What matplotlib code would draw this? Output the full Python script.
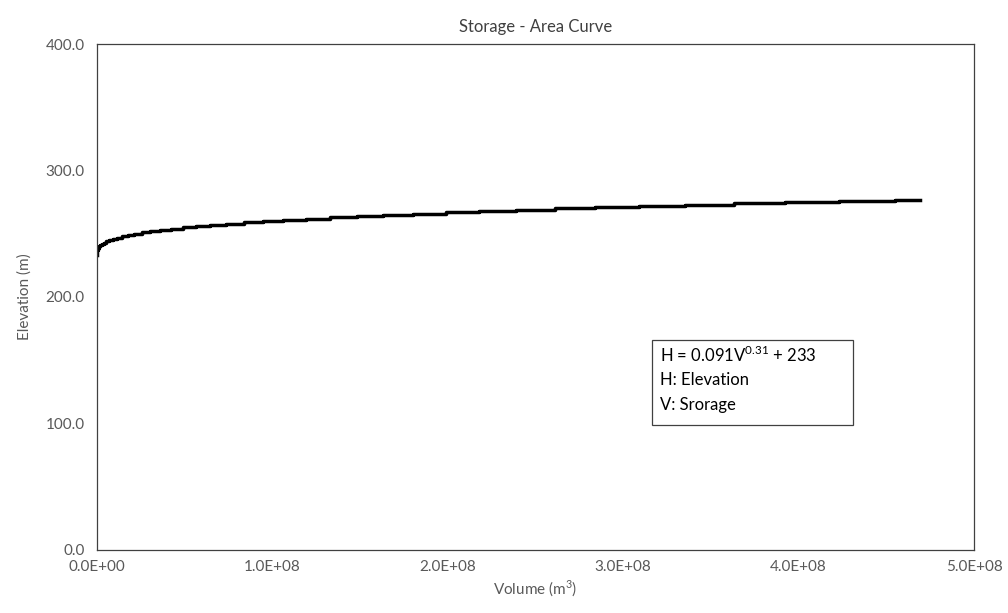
import matplotlib
matplotlib.use("Agg")
import matplotlib.pyplot as plt
from matplotlib.patches import Rectangle
from matplotlib.ticker import FuncFormatter

# storage table (volume in m3, elevation in m)
volume = [0, 2.3e3, 2.1e4, 7.9e4, 2.0e5, 4.1e5, 7.4e5, 1.2e6, 1.9e6, 2.7e6,
          3.8e6, 5.2e6, 6.9e6, 9.0e6, 1.13e7, 1.42e7, 1.75e7, 2.12e7, 2.56e7,
          3.04e7, 3.59e7, 4.20e7, 4.88e7, 5.63e7, 6.46e7, 7.37e7, 8.37e7,
          9.45e7, 1.06e8, 1.19e8, 1.33e8, 1.48e8, 1.63e8, 1.80e8, 1.99e8,
          2.18e8, 2.39e8, 2.61e8, 2.84e8, 3.09e8, 3.35e8, 3.63e8, 3.92e8,
          4.23e8, 4.55e8, 4.69e8]
elevation = list(range(233, 278)) + [277]

x_ticks = [0, 1e8, 2e8, 3e8, 4e8, 5e8]
y_ticks = [0, 100, 200, 300, 400]

text_col = '#595959'
plt.rcParams['font.family'] = ['Lato', 'DejaVu Sans']
plt.rcParams['mathtext.fontset'] = 'custom'
plt.rcParams['mathtext.rm'] = 'Lato'

fig = plt.figure(figsize=(10.08, 6.13), dpi=100)
ax = fig.add_axes([0.0962, 0.1028, 0.8701, 0.8254])

ax.plot(volume, elevation, color='black', lw=2.5, drawstyle='steps-post')

ax.set_xlim(0, 5e8)
ax.set_ylim(0, 400)
ax.set_xticks(x_ticks)
ax.set_yticks(y_ticks)
ax.xaxis.set_major_formatter(FuncFormatter(lambda v, p: f'{v:.1E}'))
ax.yaxis.set_major_formatter(FuncFormatter(lambda v, p: f'{v:.1f}'))
ax.tick_params(length=0, labelsize=11, colors=text_col, pad=7)
ax.tick_params(axis='y', pad=9)

for s in ax.spines.values():
    s.set_color('#404040')
    s.set_linewidth(0.9)

ax.set_title('Storage - Area Curve', fontsize=12, color='#404040', pad=9)
ax.set_xlabel('Volume (m$^3$)', fontsize=11, color=text_col, labelpad=4)
ax.set_ylabel('Elevation (m)', fontsize=11, color=text_col, labelpad=10)

# equation box
ax.add_patch(Rectangle((0.633, 0.247), 0.229, 0.168, transform=ax.transAxes,
                       fill=False, edgecolor='#404040', lw=0.9))
lines = ['H = 0.091V$^{0.31}$ + 233', 'H: Elevation', 'V: Srorage']
for i, t in enumerate(lines):
    ax.text(0.642, 0.385 - i * 0.049, t, transform=ax.transAxes,
            fontsize=12, color='black', va='center')

fig.savefig('out.png', dpi=100)
